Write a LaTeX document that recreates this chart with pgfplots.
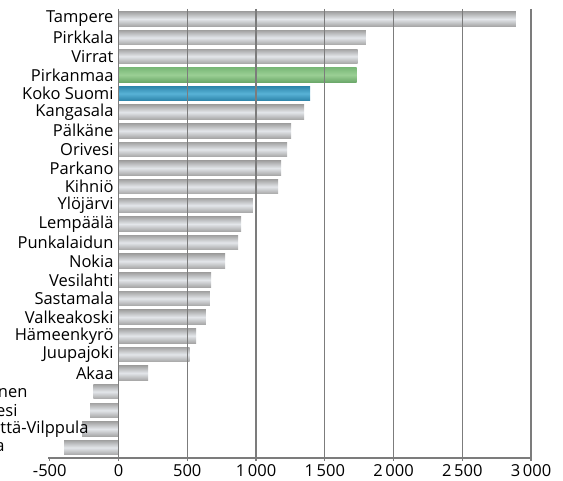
\documentclass[border=0pt]{standalone}
\usepackage{pgfplots}
\pgfplotsset{compat=1.18}
\usepackage{fontspec}
\setmainfont{Open Sans}
\definecolor{gridgray}{HTML}{7C7C7C}
\definecolor{gtop}{HTML}{A2A2A2}
\definecolor{gmid}{HTML}{E3E6EA}
\definecolor{gbot}{HTML}{A6A6A6}
\pgfplotsset{
  gbar/.style={xbar, bar width=0.78, bar shift=0pt, draw=none,
    top color=gtop, bottom color=gbot, middle color=gmid, forget plot},
}
\begin{document}
\begin{tikzpicture}
\begin{axis}[
  name=ax,
  scale only axis,
  width=484pt, height=449pt,
  xmin=-510, xmax=3010,
  ymin=0.463, ymax=24.56,
  y dir=reverse,
  axis on top,
  axis x line=bottom,
  axis y line=middle,
  axis line style={-, draw=gridgray, line width=1.4pt},
  xtick={-500,0,...,3000},
  extra x ticks={500,1000,...,3000},
  extra x tick labels={},
  extra x tick style={grid=major, major tick length=0pt},
  grid style={draw=gridgray, line width=1.2pt},
  xtick style={draw=gridgray, line width=1.2pt},
  major tick length=3pt,
  xtick align=outside,
  ytick={1,...,24},
  yticklabels={Tampere,Pirkkala,Virrat,Pirkanmaa,Koko Suomi,Kangasala,Pälkäne,Orivesi,Parkano,Kihniö,Ylöjärvi,Lempäälä,Punkalaidun,Nokia,Vesilahti,Sastamala,Valkeakoski,Hämeenkyrö,Juupajoki,Akaa,{Ikaalinen\hspace*{86pt}},{Ruovesi\hspace*{96pt}},{Mänttä-Vilppula\hspace*{25pt}},{Urjala\hspace*{109pt}}},
  ytick style={draw=none},
  tick label style={font=\fontsize{16.5}{18}\selectfont, text=black},
  /pgf/number format/.cd, 1000 sep={\,}, assume math mode=true,
]
\addplot[gbar] coordinates {(2890,1)};
\addplot[gbar] coordinates {(1798,2)};
\addplot[gbar] coordinates {(1739,3)};
\addplot[gbar] coordinates {(1349,6)};
\addplot[gbar] coordinates {(1255,7)};
\addplot[gbar] coordinates {(1226,8)};
\addplot[gbar] coordinates {(1182,9)};
\addplot[gbar] coordinates {(1160,10)};
\addplot[gbar] coordinates {(978,11)};
\addplot[gbar] coordinates {(891,12)};
\addplot[gbar] coordinates {(869,13)};
\addplot[gbar] coordinates {(775,14)};
\addplot[gbar] coordinates {(673,15)};
\addplot[gbar] coordinates {(665,16)};
\addplot[gbar] coordinates {(636,17)};
\addplot[gbar] coordinates {(564,18)};
\addplot[gbar] coordinates {(518,19)};
\addplot[gbar] coordinates {(215,20)};
\addplot[gbar] coordinates {(-183,21)};
\addplot[gbar] coordinates {(-207,22)};
\addplot[gbar] coordinates {(-265,23)};
\addplot[gbar] coordinates {(-396,24)};
\addplot[xbar, bar width=0.78, bar shift=0pt, draw=none,
  top color={rgb,255:red,122;green,184;blue,120}, bottom color={rgb,255:red,108;green,168;blue,106}, middle color={rgb,255:red,154;green,207;blue,148}]
  coordinates {(1732,4)};
\addplot[xbar, bar width=0.78, bar shift=0pt, draw=none,
  top color={rgb,255:red,46;green,134;blue,172}, bottom color={rgb,255:red,44;green,130;blue,168}, middle color={rgb,255:red,88;green,178;blue,214}]
  coordinates {(1393,5)};
\coordinate (bl) at (axis cs:-510,24.56);
\end{axis}
\pgfresetboundingbox
\path[use as bounding box] ([xshift=-48.4pt,yshift=-23pt]bl) rectangle ++(563pt,481pt);
\end{tikzpicture}
\end{document}
